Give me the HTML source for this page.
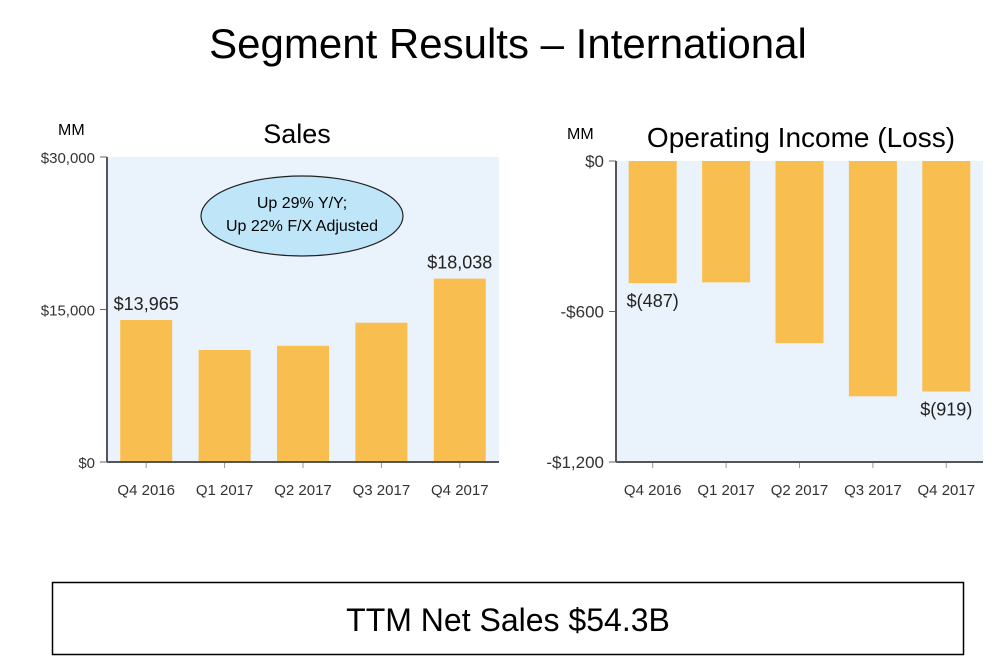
<!DOCTYPE html>
<html><head><meta charset="utf-8"><style>
body{margin:0;width:992px;height:664px;background:#fff;overflow:hidden;font-family:"Liberation Sans",Arial,sans-serif}
svg{position:absolute;left:0;top:0}
</style></head><body>
<svg width="992" height="664" font-family="Liberation Sans, Arial, sans-serif">
<text x="508" y="58" font-size="42" text-anchor="middle" fill="#000">Segment Results – International</text>
<g id="left"></g>
<g id="right"></g>
<rect x="52.5" y="582.5" width="911" height="72" fill="#fff" stroke="#000" stroke-width="1.5"/>
<text x="508" y="631" font-size="32" text-anchor="middle">TTM Net Sales $54.3B</text>
</svg>
<script>
const categories=["Q4 2016","Q1 2017","Q2 2017","Q3 2017","Q4 2017"];
const salesValues=[13965,11017,11430,13700,18038];
const salesTicks=[0,15000,30000];
const salesTickLabels=["$0","$15,000","$30,000"];
const salesLabels=["$13,965",null,null,null,"$18,038"];
const incomeValues=[-487,-484,-726,-938,-919];
const incomeTicks=[0,-600,-1200];
const incomeTickLabels=["$0","-$600","-$1,200"];
const incomeLabels=["$(487)",null,null,null,"$(919)"];
const NS="http://www.w3.org/2000/svg";
function mk(p,t,a,txt){const e=document.createElementNS(NS,t);for(const k in a)e.setAttribute(k,a[k]);if(txt!=null)e.textContent=txt;p.appendChild(e);return e;}
function chart(g,o){
 const {x0,x1,y0,y1,vmin,vmax,vals,ticks,tickLabels,labels,bw,title,titleX,titleSize,tickSize,neg}=o;
 const ys=v=>y1-(v-vmin)/(vmax-vmin)*(y1-y0);
 const band=(x1-x0)/categories.length;
 const xs=i=>x0+band*(i+0.5);
 const bg=mk(g,'rect',{x:x0,y:y0,width:x1-x0,height:y1-y0,fill:'#eaf2fc'});
 
 const t=mk(g,'text',{x:titleX,y:y0-14,'font-size':titleSize,'text-anchor':'middle'},title);
 
 const mm=mk(g,'text',{x:x0-49,y:y0-22,'font-size':16},'MM');
 
 ticks.forEach((v,i)=>{const y=ys(v);
  const tl=mk(g,'line',{x1:x0-7,x2:x0,y1:y,y2:y,stroke:'#666'});
  
  const tx=mk(g,'text',{x:x0-12,y:y+6,'font-size':tickSize,'text-anchor':'end',fill:'#333'},tickLabels[i]);
  });
 vals.forEach((v,i)=>{const a=ys(0),b=ys(v);
  const r=mk(g,'rect',{x:xs(i)-bw/2,y:Math.min(a,b),width:bw,height:Math.abs(a-b),fill:'#f8bf50'});
  
  
  if(labels[i]){const ly=neg?b+24:b-10;
   const l=mk(g,'text',{x:xs(i),y:ly,'font-size':18,'text-anchor':'middle',fill:'#222'},labels[i]);
   }
  const xt=mk(g,'line',{x1:xs(i),x2:xs(i),y1:y1,y2:y1+6,stroke:'#999'});
  
  const xl=mk(g,'text',{x:xs(i),y:y1+33,'font-size':15,'text-anchor':'middle',fill:'#333'},categories[i]);
  });
 const ax=mk(g,'line',{x1:x0,x2:x0,y1:y0,y2:y1,stroke:'#555','stroke-width':2});
 
 const bx=mk(g,'line',{x1:x0,x2:x1,y1:y1,y2:y1,stroke:'#555','stroke-width':2});
 
}
const L=document.getElementById('left'),R=document.getElementById('right');
chart(L,{x0:107,x1:499,y0:157,y1:462,vmin:0,vmax:30000,vals:salesValues,ticks:salesTicks,tickLabels:salesTickLabels,labels:salesLabels,bw:52,title:'Sales',titleX:297,titleSize:27,tickSize:15,neg:false});
chart(R,{x0:616,x1:983,y0:161,y1:462,vmin:-1200,vmax:0,vals:incomeValues,ticks:incomeTicks,tickLabels:incomeTickLabels,labels:incomeLabels,bw:48,title:'Operating Income (Loss)',titleX:801,titleSize:28,tickSize:17,neg:true});
const el=mk(L,'ellipse',{cx:302,cy:216,rx:101,ry:40,fill:'#bfe6f8',stroke:'#222','stroke-width':1.2});


const c1=mk(L,'text',{x:302,y:208,'font-size':16,'text-anchor':'middle'},'Up 29% Y/Y;');


const c2=mk(L,'text',{x:302,y:231,'font-size':16,'text-anchor':'middle'},'Up 22% F/X Adjusted');


</script>
</body></html>
